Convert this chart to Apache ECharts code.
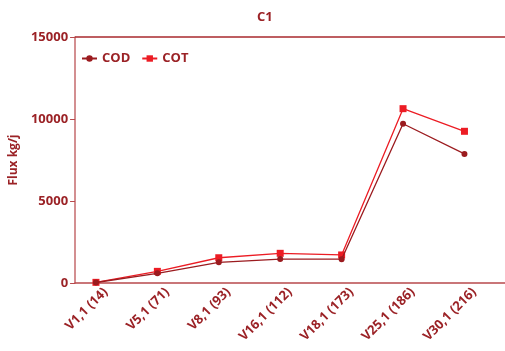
<!DOCTYPE html>
<html><head><meta charset="utf-8">
<script src="https://cdn.jsdelivr.net/npm/echarts@6/dist/echarts.min.js"></script>
<style>html,body{margin:0;padding:0;background:#fff}#c{width:505px;height:351px}</style>
</head><body><div id="c"></div>
<script>
var categories = ['V1,1 (14)','V5,1 (71)','V8,1 (93)','V16,1 (112)','V18,1 (173)','V25,1 (186)','V30,1 (216)'];
var codValues = [30, 590, 1260, 1460, 1450, 9710, 7870];
var cotValues = [40, 710, 1540, 1810, 1710, 10630, 9250];
var yTicks = [0, 5000, 10000, 15000];

var POINT_SHIFT = -0.16;
var FONT = 'Open Sans';
var TXT = '#9b2226';
function toPts(vals){ return vals.map(function(v,i){ return [i + POINT_SHIFT, v]; }); }

var chart = echarts.init(document.getElementById('c'));
chart.setOption({
  animation:false,
  title:{text:'C1', top:6, left:252, textStyle:{color:TXT, fontFamily:FONT, fontSize:13, fontWeight:'bold'}},
  legend:{left:76, top:47, itemGap:11, itemWidth:15, itemHeight:8,
    textStyle:{color:TXT, fontFamily:FONT, fontSize:13, fontWeight:'bold'},
    data:['COD','COT']},
  grid:{left:72, right:0, top:37, bottom:68},
  xAxis:[
    {type:'category', data:categories, boundaryGap:true, position:'bottom',
     axisLine:{lineStyle:{color:'#b8494c', width:1.5}},
     axisTick:{alignWithLabel:true, length:5, lineStyle:{color:'#b8494c'}},
     axisLabel:{rotate:45, color:TXT, fontFamily:FONT, fontSize:13, fontWeight:'bold', margin:7, interval:0}},
    {type:'value', min:-0.5, max:6.5, show:false}
  ],
  yAxis:{type:'value', min:0, max:15000, interval:5000,
    name:'Flux kg/j', nameLocation:'middle', nameGap:54, nameRotate:90,
    nameTextStyle:{color:TXT, fontFamily:FONT, fontSize:12, fontWeight:'bold'},
    axisLine:{show:true, onZero:false, lineStyle:{color:'#c46a6c', width:1.5}},
    axisTick:{show:true, length:5, lineStyle:{color:'#b8494c'}},
    splitLine:{show:false},
    axisLabel:{color:TXT, fontFamily:FONT, fontSize:13, fontWeight:'bold', margin:7,
      formatter:function(v){ return yTicks.indexOf(v) >= 0 ? String(v) : ''; }}
  },
  series:[
    {name:'COD', type:'line', xAxisIndex:1, data:toPts(codValues), symbol:'circle', symbolSize:6,
     itemStyle:{color:'#9b1b1f'}, lineStyle:{color:'#9b1b1f', width:1.3}, z:3},
    {name:'COT', type:'line', xAxisIndex:1, data:toPts(cotValues), symbol:'rect', symbolSize:7,
     itemStyle:{color:'#ec1c24'}, lineStyle:{color:'#ec1c24', width:1.3}, z:2,
     markLine:{silent:true, symbol:'none', label:{show:false}, lineStyle:{color:'#a8282c', width:1.5, type:'solid'},
       data:[{yAxis:15000}]}}
  ]
});
</script></body></html>
